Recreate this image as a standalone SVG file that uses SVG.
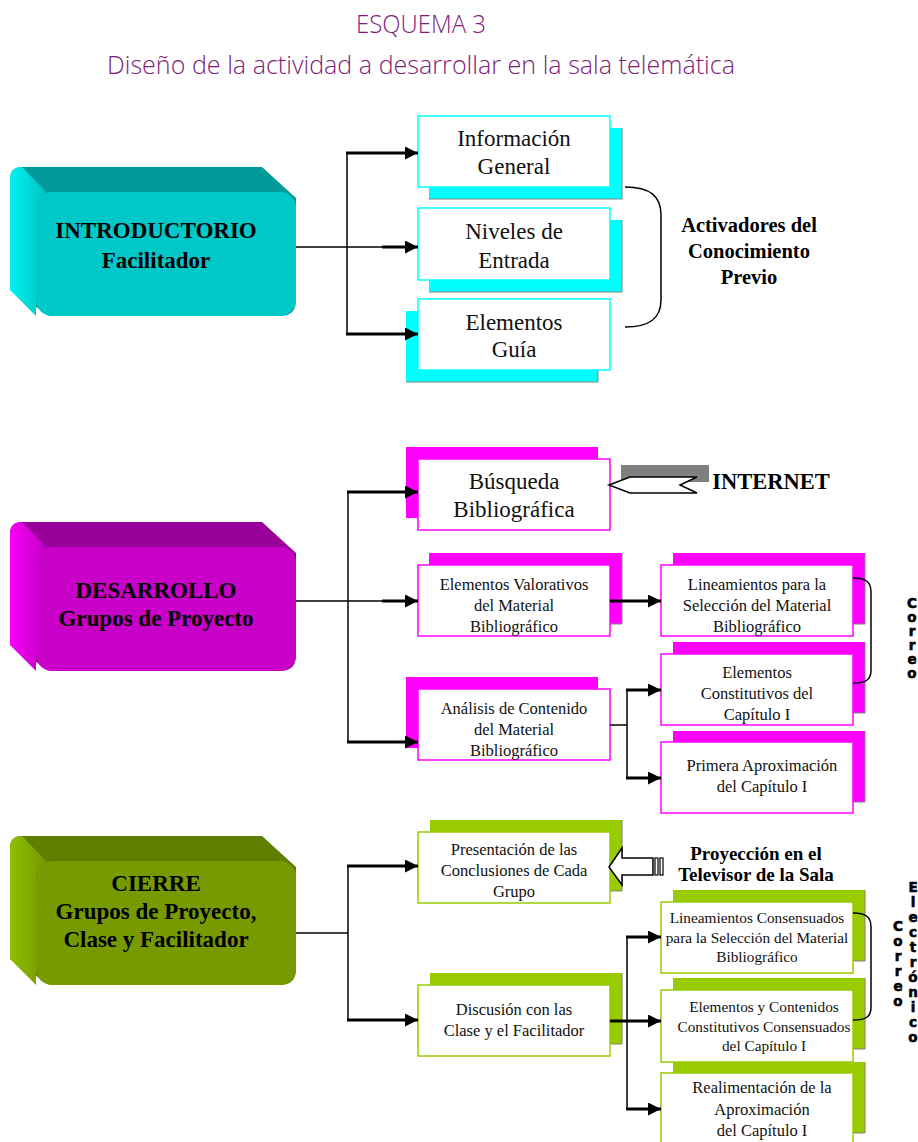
<svg xmlns="http://www.w3.org/2000/svg" width="918" height="1142" viewBox="0 0 918 1142">
<defs>
<marker id="ah" markerUnits="userSpaceOnUse" markerWidth="14" markerHeight="14" refX="13" refY="6.5" orient="auto"><path d="M0,0 L13,6.5 L0,13 Z" fill="#000"/></marker>
<linearGradient id="gc" x1="0" x2="1" y1="0" y2="0"><stop offset="0" stop-color="#00F2F2"/><stop offset="1" stop-color="#00C4C4"/></linearGradient>
<linearGradient id="gm" x1="0" x2="1" y1="0" y2="0"><stop offset="0" stop-color="#F800F8"/><stop offset="1" stop-color="#C400C4"/></linearGradient>
<linearGradient id="gg" x1="0" x2="1" y1="0" y2="0"><stop offset="0" stop-color="#8FC000"/><stop offset="1" stop-color="#759800"/></linearGradient>
<path id="back" d="M10,179 Q10,167 22,167 L262,167 L296,198 L296,300 Q296,316 280,316 L50,316 L10,290 Z"/>
<path id="left" d="M10,179 Q10,167 22,167 L46,192 L36,204 L36,316 L10,290 Z"/>
</defs>
<style>
.title{font-family:"Open Sans","Noto Sans",sans-serif;font-weight:300;fill:#7E1C78;font-size:26px;text-anchor:middle}
.hb{font-family:"Liberation Serif","Times New Roman",serif;font-weight:bold;font-size:23px;text-anchor:middle;fill:#000}
.t{font-family:"Liberation Serif","Times New Roman",serif;text-anchor:middle;fill:#111}
.t23{font-size:23px}
.t17{font-size:16.5px}
.t15{font-size:15.3px}
.lab{font-family:"Liberation Serif","Times New Roman",serif;font-weight:bold;text-anchor:middle;fill:#000}
.box{fill:#fff;stroke-width:1.5}
.cy{stroke:#00FFFF}.mg{stroke:#FF00FF}.gr{stroke:#99CC00}
.scy{fill:#00FFFF}.smg{fill:#FF00FF}.sgr{fill:#99CC00}
.edge{fill:none;stroke:#808080;stroke-width:1}
.thin{stroke:#000;stroke-width:1.5;fill:none}
.thick{stroke:#000;stroke-width:3;fill:none}
.vt{font-family:"DejaVu Sans","Liberation Sans",sans-serif;font-weight:bold;font-size:13.5px;text-anchor:middle;fill:#000;stroke:#000;stroke-width:0.6}
</style>

<g id="title">
<text class="title" x="421" y="33" textLength="130" lengthAdjust="spacingAndGlyphs">ESQUEMA 3</text>
<text class="title" x="421" y="74" textLength="628" lengthAdjust="spacingAndGlyphs">Diseño de la actividad a desarrollar en la sala telemática</text>
</g>

<g id="introductorio">
<use href="#back" fill="#009A9A"/>
<use href="#left" fill="url(#gc)"/>
<rect x="36" y="192" width="260" height="124" rx="16" fill="#00C8C8"/>
<text class="hb" x="156" y="238">INTRODUCTORIO</text>
<text class="hb" x="156" y="268">Facilitador</text>
</g>

<g id="desarrollo" transform="translate(0,355)">
<use href="#back" fill="#990099"/>
<use href="#left" fill="url(#gm)"/>
<rect x="36" y="192" width="260" height="124" rx="16" fill="#C800C8"/>
<text class="hb" x="156" y="598" transform="translate(0,-355)">DESARROLLO</text>
<text class="hb" x="156" y="626" transform="translate(0,-355)">Grupos de Proyecto</text>
</g>

<g id="cierre" transform="translate(0,669)">
<use href="#back" fill="#5F7F00"/>
<use href="#left" fill="url(#gg)"/>
<rect x="36" y="192" width="260" height="124" rx="16" fill="#779A00"/>
<text class="hb" x="156" y="891" transform="translate(0,-669)">CIERRE</text>
<text class="hb" x="156" y="919" transform="translate(0,-669)">Grupos de Proyecto,</text>
<text class="hb" x="156" y="947" transform="translate(0,-669)">Clase y Facilitador</text>
</g>

<!-- Intro children -->
<g id="info-general">
<rect class="scy" x="429" y="128" width="193" height="71"/>
<polyline class="edge" points="622,128 622,199 429,199"/>
<rect class="box cy" x="418" y="116" width="192" height="71"/>
<text class="t t23" x="514" y="146">Información</text>
<text class="t t23" x="514" y="174">General</text>
</g>
<g id="niveles">
<rect class="scy" x="429" y="220" width="193" height="72"/>
<polyline class="edge" points="622,220 622,292 429,292"/>
<rect class="box cy" x="418" y="208" width="192" height="72"/>
<text class="t t23" x="514" y="239">Niveles de</text>
<text class="t t23" x="514" y="268">Entrada</text>
</g>
<g id="elementos-guia">
<rect class="scy" x="406" y="311" width="192" height="71"/>
<polyline class="edge" points="598,370 598,382 406,382"/>
<rect class="box cy" x="418" y="299" width="192" height="71"/>
<text class="t t23" x="514" y="330">Elementos</text>
<text class="t t23" x="514" y="357">Guía</text>
</g>
<g id="activadores">
<path class="thin" d="M625,187 C650,187 661,196 661,215 L661,300 C661,318 650,327 625,327"/>
<text class="lab" font-size="20.5" x="749" y="232">Activadores del</text>
<text class="lab" font-size="20.5" x="749" y="258">Conocimiento</text>
<text class="lab" font-size="20.5" x="749" y="284">Previo</text>
</g>

<!-- Desarrollo children -->
<g id="busqueda">
<rect class="smg" x="406" y="447" width="192" height="71"/>
<rect class="box mg" x="418" y="459" width="192" height="71"/>
<text class="t t23" x="514" y="489">Búsqueda</text>
<text class="t t23" x="514" y="517">Bibliográfica</text>
</g>
<g id="internet">
<rect x="621" y="465" width="88" height="17" fill="#808080"/>
<polygon points="609,485 630,477 697,477 680,485 697,493 630,493" fill="#fff" stroke="#000" stroke-width="1.5"/>
<text class="lab" font-size="22.5" x="771" y="489">INTERNET</text>
</g>
<g id="valorativos">
<rect class="smg" x="429" y="553" width="193" height="71"/>
<polyline class="edge" points="622,553 622,624 610,624"/>
<rect class="box mg" x="418" y="565" width="192" height="71"/>
<text class="t t17" x="514" y="590">Elementos Valorativos</text>
<text class="t t17" x="514" y="611">del Material</text>
<text class="t t17" x="514" y="632">Bibliográfico</text>
</g>
<g id="analisis">
<rect class="smg" x="406" y="677" width="192" height="71"/>
<rect class="box mg" x="418" y="689" width="192" height="71"/>
<text class="t t17" x="514" y="714">Análisis de Contenido</text>
<text class="t t17" x="514" y="735">del Material</text>
<text class="t t17" x="514" y="756">Bibliográfico</text>
</g>
<g id="lineamientos">
<rect class="smg" x="673" y="553" width="192" height="71"/>
<polyline class="edge" points="865,553 865,624 853,624"/>
<rect class="box mg" x="661" y="565" width="192" height="71"/>
<text class="t t17" x="757" y="590">Lineamientos para la</text>
<text class="t t17" x="757" y="611">Selección del Material</text>
<text class="t t17" x="757" y="632">Bibliográfico</text>
</g>
<g id="constitutivos">
<rect class="smg" x="673" y="642" width="192" height="71"/>
<polyline class="edge" points="865,642 865,713 853,713"/>
<rect class="box mg" x="661" y="654" width="192" height="71"/>
<text class="t t17" x="757" y="678">Elementos</text>
<text class="t t17" x="757" y="699">Constitutivos del</text>
<text class="t t17" x="757" y="720">Capítulo I</text>
</g>
<g id="primera">
<rect class="smg" x="673" y="731" width="192" height="71"/>
<polyline class="edge" points="865,731 865,802 853,802"/>
<rect class="box mg" x="661" y="742" width="192" height="71"/>
<text class="t t17" x="762" y="771">Primera Aproximación</text>
<text class="t t17" x="762" y="792">del Capítulo I</text>
</g>
<g id="correo1">
<path class="thin" d="M853,578 C866,578 871,582 871,592 L871,670 C871,680 866,683 853,683"/>
<text class="vt"><tspan x="912" y="608">C</tspan><tspan x="912" y="622">o</tspan><tspan x="912" y="636">r</tspan><tspan x="912" y="650">r</tspan><tspan x="912" y="664">e</tspan><tspan x="912" y="678">o</tspan></text>
</g>

<!-- Cierre children -->
<g id="presentacion">
<rect class="sgr" x="430" y="820" width="192" height="71"/>
<polyline class="edge" points="622,820 622,891 610,891"/>
<rect class="box gr" x="418" y="832" width="192" height="71"/>
<text class="t t17" x="514" y="855">Presentación de las</text>
<text class="t t17" x="514" y="876">Conclusiones de Cada</text>
<text class="t t17" x="514" y="897">Grupo</text>
</g>
<g id="proyeccion">
<polygon points="609,867 622,848 622,858 653,858 653,875 622,875 622,885" fill="#fff" stroke="#000" stroke-width="1.5"/>
<rect x="655" y="858" width="3" height="17" fill="#fff" stroke="#000" stroke-width="1.2"/>
<rect x="660" y="858" width="3" height="17" fill="#fff" stroke="#000" stroke-width="1.2"/>
<text class="lab" font-size="19" x="756" y="860">Proyección en el</text>
<text class="lab" font-size="19" x="756" y="881">Televisor de la Sala</text>
</g>
<g id="discusion">
<rect class="sgr" x="430" y="973" width="192" height="71"/>
<polyline class="edge" points="622,973 622,1044 610,1044"/>
<rect class="box gr" x="418" y="985" width="192" height="71"/>
<text class="t t17" x="514" y="1015">Discusión con las</text>
<text class="t t17" x="514" y="1036">Clase y el Facilitador</text>
</g>
<g id="consensuados">
<rect class="sgr" x="673" y="890" width="192" height="71"/>
<polyline class="edge" points="865,890 865,961 853,961"/>
<rect class="box gr" x="661" y="902" width="192" height="71"/>
<text class="t t15" x="757" y="923">Lineamientos Consensuados</text>
<text class="t t15" x="757" y="943">para la Selección del Material</text>
<text class="t t15" x="757" y="962">Bibliográfico</text>
</g>
<g id="contenidos">
<rect class="sgr" x="673" y="978" width="192" height="71"/>
<polyline class="edge" points="865,978 865,1049 853,1049"/>
<rect class="box gr" x="661" y="990" width="192" height="72"/>
<text class="t t15" x="764" y="1012">Elementos y Contenidos</text>
<text class="t t15" x="764" y="1032">Constitutivos Consensuados</text>
<text class="t t15" x="764" y="1051">del Capítulo I</text>
</g>
<g id="realimentacion">
<rect class="sgr" x="673" y="1062" width="192" height="71"/>
<polyline class="edge" points="865,1062 865,1133 853,1133"/>
<rect class="box gr" x="661" y="1073" width="192" height="75"/>
<text class="t t17" x="762" y="1093">Realimentación de la</text>
<text class="t t17" x="762" y="1115">Aproximación</text>
<text class="t t17" x="762" y="1136">del Capítulo I</text>
</g>
<g id="correo2">
<path class="thin" d="M853,913 C866,913 871,917 871,927 L871,1007 C871,1017 866,1020 853,1020"/>
<text class="vt"><tspan x="898" y="931">C</tspan><tspan x="898" y="946">o</tspan><tspan x="898" y="961">r</tspan><tspan x="898" y="976">r</tspan><tspan x="898" y="991">e</tspan><tspan x="898" y="1006">o</tspan></text>
<text class="vt"><tspan x="913" y="892">E</tspan><tspan x="913" y="907">l</tspan><tspan x="913" y="922">e</tspan><tspan x="913" y="937">c</tspan><tspan x="913" y="952">t</tspan><tspan x="913" y="967">r</tspan><tspan x="913" y="982">ó</tspan><tspan x="913" y="997">n</tspan><tspan x="913" y="1012">i</tspan><tspan x="913" y="1027">c</tspan><tspan x="913" y="1042">o</tspan></text>
</g>

<g id="connectors">
<!-- intro -->
<line class="thin" x1="296" y1="247" x2="384" y2="247"/>
<line class="thick" x1="382" y1="247" x2="418" y2="247" marker-end="url(#ah)"/>
<line class="thin" x1="347" y1="153" x2="347" y2="333"/>
<line class="thick" x1="346" y1="153" x2="418" y2="153" marker-end="url(#ah)"/>
<line class="thick" x1="346" y1="334" x2="418" y2="334" marker-end="url(#ah)"/>
<!-- desarrollo -->
<line class="thin" x1="296" y1="601" x2="384" y2="601"/>
<line class="thick" x1="382" y1="601" x2="418" y2="601" marker-end="url(#ah)"/>
<line class="thin" x1="348" y1="492" x2="348" y2="742"/>
<line class="thick" x1="347" y1="492" x2="418" y2="492" marker-end="url(#ah)"/>
<line class="thick" x1="347" y1="742" x2="418" y2="742" marker-end="url(#ah)"/>
<line class="thick" x1="610" y1="601" x2="661" y2="601" marker-end="url(#ah)"/>
<line class="thin" x1="610" y1="725" x2="627" y2="725"/>
<line class="thin" x1="627" y1="690" x2="627" y2="778"/>
<line class="thick" x1="626" y1="690" x2="661" y2="690" marker-end="url(#ah)"/>
<line class="thick" x1="626" y1="778" x2="661" y2="778" marker-end="url(#ah)"/>
<!-- cierre -->
<line class="thin" x1="296" y1="933" x2="348" y2="933"/>
<line class="thin" x1="348" y1="866" x2="348" y2="1020"/>
<line class="thick" x1="347" y1="866" x2="418" y2="866" marker-end="url(#ah)"/>
<line class="thick" x1="347" y1="1020" x2="418" y2="1020" marker-end="url(#ah)"/>
<line class="thick" x1="610" y1="1021" x2="661" y2="1021" marker-end="url(#ah)"/>
<line class="thin" x1="627" y1="937" x2="627" y2="1109"/>
<line class="thick" x1="626" y1="937" x2="661" y2="937" marker-end="url(#ah)"/>
<line class="thick" x1="626" y1="1109" x2="661" y2="1109" marker-end="url(#ah)"/>
</g>
</svg>
